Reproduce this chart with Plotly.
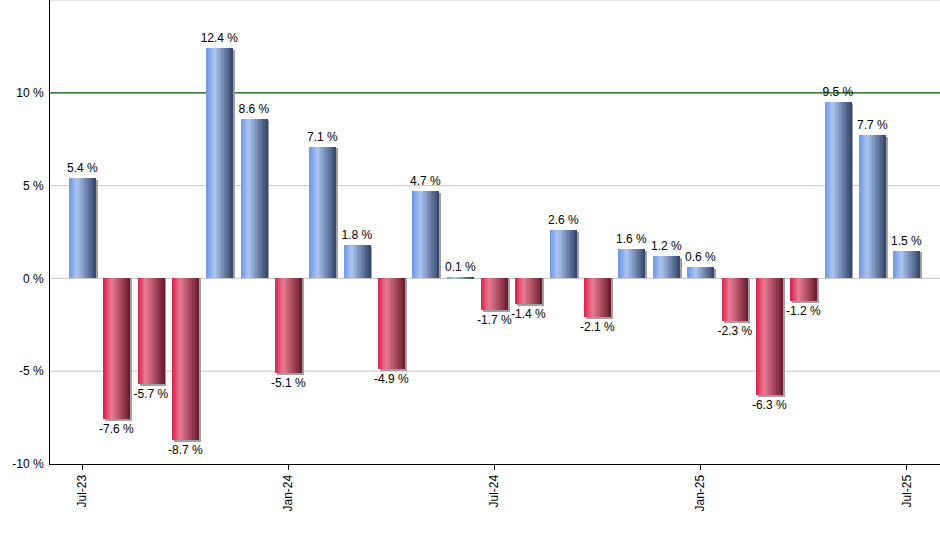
import plotly.graph_objects as go

# monthly change, Jul-23 .. Jul-25
months = ["Jul-23", "Aug-23", "Sep-23", "Oct-23", "Nov-23", "Dec-23",
          "Jan-24", "Feb-24", "Mar-24", "Apr-24", "May-24", "Jun-24",
          "Jul-24", "Aug-24", "Sep-24", "Oct-24", "Nov-24", "Dec-24",
          "Jan-25", "Feb-25", "Mar-25", "Apr-25", "May-25", "Jun-25",
          "Jul-25"]
values = [5.4, -7.6, -5.7, -8.7, 12.4, 8.6,
          -5.1, 7.1, 1.8, -4.9, 4.7, 0.1,
          -1.7, -1.4, 2.6, -2.1, 1.6, 1.2,
          0.6, -2.3, -6.3, -1.2, 9.5, 7.7,
          1.5]
tick_months = ["Jul-23", "Jan-24", "Jul-24", "Jan-25", "Jul-25"]
y_ticks = [-10, -5, 0, 5, 10]
y_labels = ["-10 %", "-5 %", "0 %", "5 %", "10 %"]
grid_levels = [-5, 0, 5, 15]
target_level = 10

idx = list(range(len(months)))
tick_idx = [months.index(m) for m in tick_months]

# horizontal gradient stops (position, rgb)
blue_stops = [(0.0, (108, 150, 230)), (0.3, (172, 198, 242)), (1.0, (50, 68, 104))]
red_stops = [(0.0, (216, 30, 74)), (0.3, (234, 124, 148)), (1.0, (104, 26, 44))]


def grad(stops, t):
    for (p0, c0), (p1, c1) in zip(stops[:-1], stops[1:]):
        if t <= p1:
            f = (t - p0) / (p1 - p0)
            c = [round(a + (b - a) * f) for a, b in zip(c0, c1)]
            return "rgb({},{},{})".format(*c)
    return "rgb({},{},{})".format(*stops[-1][1])


bar_w = 0.78
n_slices = 20
slice_w = bar_w / n_slices
dx = 2 / 34.35   # shadow shift, ~2 px
dy = 0.1         # ~2 px

fig = go.Figure()

# shadow
fig.add_trace(go.Bar(
    x=idx, y=[v - dy for v in values], width=bar_w, offset=-bar_w / 2 + dx,
    marker=dict(color="#a0a0a0", line=dict(width=0)), hoverinfo="skip",
))

# gradient slices, each one overlapping the next so no seams show
for i in range(n_slices):
    t = (i + 0.5) / n_slices
    cols = [grad(blue_stops if v >= 0 else red_stops, t) for v in values]
    w = slice_w * 2 if i < n_slices - 1 else slice_w
    fig.add_trace(go.Bar(
        x=idx, y=values, width=w,
        offset=-bar_w / 2 + i * slice_w,
        marker=dict(color=cols, line=dict(width=0)), hoverinfo="skip",
    ))

# value labels
fig.add_trace(go.Bar(
    x=idx, y=values, width=bar_w,
    marker=dict(color="rgba(0,0,0,0)", line=dict(width=0)),
    texttemplate="%{y:.1f} %", textposition="outside",
    textfont=dict(size=12, color="black", family="Liberation Sans, Arial"),
    constraintext="none", cliponaxis=False,
    hovertemplate="%{customdata}: %{y:.1f} %<extra></extra>",
    customdata=months,
))

for lvl in grid_levels:
    fig.add_shape(type="line", xref="paper", x0=0, x1=1, yref="y", y0=lvl, y1=lvl,
                  line=dict(color="#c8c8c8", width=1), layer="below")
fig.add_shape(type="line", xref="paper", x0=0, x1=1, yref="y",
              y0=target_level, y1=target_level,
              line=dict(color="#005000", width=1.2), layer="below")

fig.update_layout(
    width=940, height=550,
    margin=dict(l=50, r=0, t=0, b=86, autoexpand=False),
    barmode="overlay", bargap=0,
    showlegend=False,
    plot_bgcolor="white", paper_bgcolor="white",
    font=dict(family="Liberation Sans, Arial", size=12, color="black"),
    xaxis=dict(
        range=[-0.94, 24.97], tickvals=tick_idx, ticktext=tick_months,
        tickangle=-90, ticks="outside", ticklen=5, tickcolor="black",
        showline=True, linecolor="black", linewidth=1, automargin=False,
        showgrid=False, zeroline=False, fixedrange=True,
    ),
    yaxis=dict(
        range=[-10, 15], tickvals=y_ticks, ticktext=y_labels,
        showgrid=False, automargin=False,
        showline=True, linecolor="black", linewidth=1,
        zeroline=False, ticks="", ticklabelstandoff=3, fixedrange=True,
    ),
)

# page body has a default 8px margin; drop it so the chart sits at the corner
fig.write_html("out.html", config={"displayModeBar": False},
               post_script="document.body.style.margin='0';")
